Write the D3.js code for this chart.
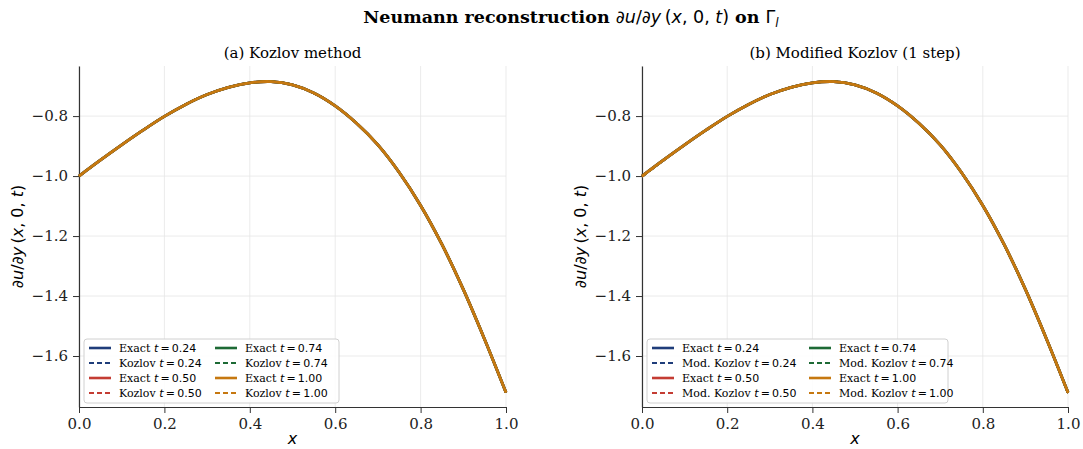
<!DOCTYPE html>
<html>
<head>
<meta charset="utf-8">
<script src="https://cdn.jsdelivr.net/npm/d3@7"></script>
<style>
  body { margin: 0; background: #fff; }
  svg { font-family: "DejaVu Serif", serif; }
  .grid line { stroke: #e6e6e6; stroke-width: 0.8; }
  .axis path, .axis line { stroke: #333; }
  .axis text { font-family: "DejaVu Serif", serif; font-size: 15px; fill: #222; }
  .math { font-family: "DejaVu Sans", sans-serif; }
</style>
</head>
<body>
<div id="chart"></div>
<script>
// chart defaults
const width = 1083
const height = 449

// data
const xValues = [0, 0.05, 0.1, 0.15, 0.2, 0.25, 0.3, 0.35, 0.4, 0.45, 0.5, 0.55, 0.6, 0.65, 0.7, 0.75, 0.8, 0.85, 0.9, 0.95, 1.0]
const exactValues = [-1.000, -0.947, -0.896, -0.847, -0.801, -0.761, -0.728, -0.704, -0.689, -0.685, -0.696, -0.723, -0.766, -0.824, -0.896, -0.988, -1.098, -1.228, -1.378, -1.545, -1.722]
const kozlovValues = [-1.000, -0.947, -0.896, -0.847, -0.801, -0.761, -0.728, -0.704, -0.689, -0.685, -0.696, -0.723, -0.766, -0.824, -0.896, -0.988, -1.098, -1.228, -1.378, -1.545, -1.722]
const modKozlovValues = [-1.002, -0.948, -0.896, -0.847, -0.801, -0.761, -0.728, -0.704, -0.689, -0.685, -0.696, -0.723, -0.766, -0.824, -0.896, -0.988, -1.098, -1.228, -1.378, -1.545, -1.724]
const times = ["0.24", "0.50", "0.74", "1.00"]
const colors = ["#1f3d7a", "#c43c33", "#1d6a35", "#c67810"]
const xTicks = [0, 0.2, 0.4, 0.6, 0.8, 1.0]
const yTicks = [-1.6, -1.4, -1.2, -1.0, -0.8]
const yDomain = [-1.77, -0.633]

const svg = d3.select('#chart')
  .append('svg')
  .attr('width', width)
  .attr('height', height)

// figure title
const title = svg.append('text')
  .attr('x', 571)
  .attr('y', 23)
  .attr('text-anchor', 'middle')
  .style('font-size', '17.5px')
  .style('font-weight', 'bold')
title.append('tspan').text('Neumann reconstruction ')
title.append('tspan').attr('class', 'math').style('font-weight', 'normal')
  .html('∂<tspan font-style="italic">u</tspan>/∂<tspan font-style="italic">y</tspan>\u2009(<tspan font-style="italic">x</tspan>, 0, <tspan font-style="italic">t</tspan>)')
title.append('tspan').text(' on ')
title.append('tspan').attr('class', 'math').style('font-weight', 'normal').text('Γ')
title.append('tspan').attr('class', 'math').style('font-weight', 'normal')
  .style('font-style', 'italic').style('font-size', '12px').attr('dy', 4).text('l')

const drawPanel = function (left, right, subTitle, modelValues, modelName, legendBox) {
  const top = 66, bottom = 407

  const xScale = d3.scaleLinear().domain([0, 1]).range([left, right])
  const yScale = d3.scaleLinear().domain(yDomain).range([bottom, top])

  const g = svg.append('g')

  // grid
  const grid = g.append('g').attr('class', 'grid')
  grid.selectAll('.vx').data(xTicks).enter().append('line')
    .attr('x1', d => xScale(d)).attr('x2', d => xScale(d))
    .attr('y1', top).attr('y2', bottom)
  grid.selectAll('.hy').data(yTicks).enter().append('line')
    .attr('x1', left).attr('x2', right)
    .attr('y1', d => yScale(d)).attr('y2', d => yScale(d))

  // axes
  g.append('g').attr('class', 'axis')
    .attr('transform', 'translate(0,' + bottom + ')')
    .call(d3.axisBottom(xScale).tickValues(xTicks).tickFormat(d3.format('.1f')).tickSizeOuter(0).tickPadding(5))
  g.append('g').attr('class', 'axis')
    .attr('transform', 'translate(' + left + ',0)')
    .call(d3.axisLeft(yScale).tickValues(yTicks).tickFormat(d3.format('.1f')).tickSizeOuter(0).tickPadding(5))
  g.selectAll('.axis .domain').attr('stroke-width', 1.2)

  // subplot title
  g.append('text')
    .attr('x', (left + right) / 2).attr('y', 58)
    .attr('text-anchor', 'middle')
    .style('font-size', '15px')
    .text(subTitle)

  // axis labels
  g.append('text')
    .attr('class', 'math')
    .attr('x', (left + right) / 2).attr('y', 444)
    .attr('text-anchor', 'middle')
    .style('font-size', '16px').style('font-style', 'italic')
    .text('x')
  g.append('text')
    .attr('class', 'math')
    .attr('transform', 'translate(' + (left - 56) + ',' + ((top + bottom) / 2) + ') rotate(-90)')
    .attr('text-anchor', 'middle')
    .style('font-size', '16px')
    .html('∂<tspan font-style="italic">u</tspan>/∂<tspan font-style="italic">y</tspan>\u2009(<tspan font-style="italic">x</tspan>, 0, <tspan font-style="italic">t</tspan>)')

  // lines
  const line = d3.line()
    .x((d, i) => xScale(xValues[i]))
    .y(d => yScale(d))
    .curve(d3.curveCatmullRom)

  times.forEach((t, i) => {
    g.append('path').datum(exactValues)
      .attr('d', line).attr('fill', 'none')
      .attr('stroke', colors[i]).attr('stroke-width', 2.8)
    g.append('path').datum(modelValues)
      .attr('d', line).attr('fill', 'none')
      .attr('stroke', colors[i]).attr('stroke-width', 2)
      .attr('stroke-dasharray', '6,3')
  })

  // legend
  const lg = g.append('g').attr('transform', 'translate(' + legendBox.x + ',' + legendBox.y + ')')
  lg.append('rect')
    .attr('width', legendBox.w).attr('height', 64)
    .attr('rx', 3)
    .attr('fill', 'white').attr('fill-opacity', 0.85)
    .attr('stroke', '#d0d0d0')

  const entries = []
  times.forEach((t, i) => {
    entries.push({ label: 'Exact', t: t, c: colors[i], dash: null })
    entries.push({ label: modelName, t: t, c: colors[i], dash: '5,3' })
  })

  entries.forEach((e, k) => {
    const col = k < 4 ? 0 : 1
    const row = k % 4
    const ex = 5 + col * legendBox.colW
    const ey = 9 + row * 15
    lg.append('line')
      .attr('x1', ex).attr('x2', ex + 22)
      .attr('y1', ey).attr('y2', ey)
      .attr('stroke', e.c)
      .attr('stroke-width', e.dash ? 1.8 : 2.6)
      .attr('stroke-dasharray', e.dash)
    const txt = lg.append('text')
      .attr('x', ex + 30).attr('y', ey + 4)
      .style('font-size', '11px')
    txt.append('tspan').text(e.label + ' ')
    txt.append('tspan').attr('class', 'math').style('font-style', 'italic').text('t')
    txt.append('tspan').attr('class', 'math').text('\u2009=\u2009' + e.t)
  })
}

drawPanel(79, 506, '(a) Kozlov method', kozlovValues, 'Kozlov', { x: 84, y: 339, w: 255, colW: 126 })
drawPanel(642, 1068, '(b) Modified Kozlov (1 step)', modKozlovValues, 'Mod. Kozlov', { x: 647, y: 339, w: 301, colW: 157 })
</script>
</body>
</html>
